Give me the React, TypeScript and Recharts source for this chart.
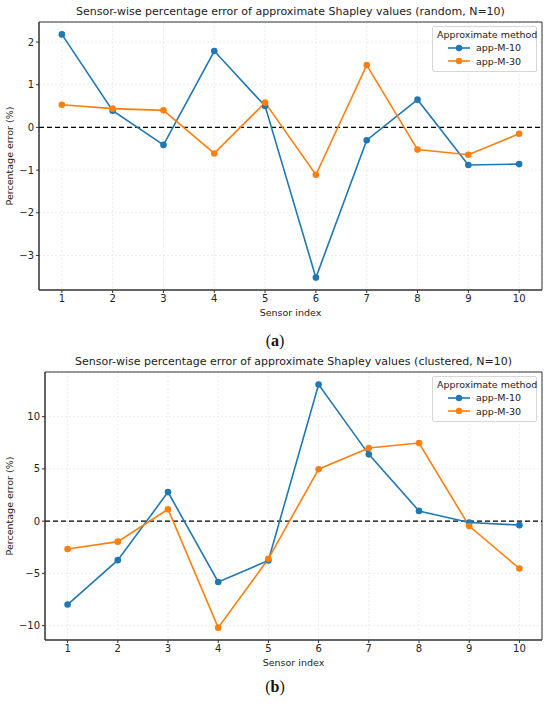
import React from "react";
import {
  LineChart,
  Line,
  XAxis,
  YAxis,
  CartesianGrid,
  ReferenceLine,
  ReferenceArea,
} from "recharts";

const sensors = [1, 2, 3, 4, 5, 6, 7, 8, 9, 10];

// (a) random placement
const randomM10 = [2.18, 0.39, -0.41, 1.79, 0.5, -3.52, -0.3, 0.65, -0.88, -0.86];
const randomM30 = [0.53, 0.44, 0.4, -0.61, 0.58, -1.11, 1.46, -0.52, -0.64, -0.15];

// (b) clustered placement
const clusteredM10 = [-7.98, -3.73, 2.78, -5.82, -3.76, 13.08, 6.39, 0.98, -0.13, -0.38];
const clusteredM30 = [-2.66, -1.96, 1.14, -10.19, -3.6, 4.97, 7.0, 7.47, -0.47, -4.53];

const randomTicks = [-3, -2, -1, 0, 1, 2];
const clusteredTicks = [-10, -5, 0, 5, 10];

const BLUE = "#1f77b4";
const ORANGE = "#ff7f0e";
const FONT = "DejaVu Sans";

const toRows = (m10: number[], m30: number[]) =>
  sensors.map((s, i) => ({ sensor: s, m10: m10[i], m30: m30[i] }));

const minus = (v: number) => String(v).replace("-", "\u2212");

function LegendBox() {
  const item = (color: string, text: string) => (
    <div style={{ display: "flex", alignItems: "center", height: 13.5 }}>
      <svg width={22} height={10} style={{ marginRight: 6 }}>
        <line x1={0} y1={5} x2={22} y2={5} stroke={color} strokeWidth={1.6} />
        <circle cx={11} cy={5} r={3.2} fill={color} />
      </svg>
      <span>{text}</span>
    </div>
  );
  return (
    <div
      style={{
        boxSizing: "border-box",
        border: "1px solid #d6d6d6",
        borderRadius: 2,
        background: "rgba(255,255,255,0.85)",
        padding: "2px 4px 3px 4px",
        fontFamily: FONT,
        fontSize: 9.5,
        color: "#222",
        width: 105,
        whiteSpace: "nowrap",
      }}
    >
      <div style={{ textAlign: "center", marginBottom: 1 }}>Approximate method</div>
      <div style={{ paddingLeft: 11 }}>
        {item(BLUE, "app-M-10")}
        {item(ORANGE, "app-M-30")}
      </div>
    </div>
  );
}

type PanelProps = {
  title: string;
  rows: { sensor: number; m10: number; m30: number }[];
  yDomain: [number, number];
  yTicks: number[];
  yWidth: number;
};

function Panel({ title, rows, yDomain, yTicks, yWidth }: PanelProps) {
  const plotLeft = yWidth;
  const plotRight = 542;
  return (
    <div style={{ position: "relative", width: 550, height: 330 }}>
      <div
        style={{
          position: "absolute",
          top: 5,
          left: plotLeft,
          width: plotRight - plotLeft,
          textAlign: "center",
          fontFamily: FONT,
          fontSize: 11,
          color: "#222",
          whiteSpace: "nowrap",
        }}
      >
        {title}
      </div>
      <LineChart
        width={550}
        height={330}
        data={rows}
        margin={{ top: 22, right: 8, bottom: 10, left: 0 }}
      >
        <CartesianGrid stroke="#ececec" strokeDasharray="2 2" />
        <XAxis
          dataKey="sensor"
          type="number"
          domain={[0.55, 10.45]}
          ticks={sensors}
          allowDataOverflow
          height={30}
          tickSize={3}
          tickLine={{ stroke: "#333" }}
          axisLine={{ stroke: "#333" }}
          tick={{ fill: "#222", fontSize: 10, fontFamily: FONT }}
          label={{
            value: "Sensor index",
            position: "insideBottom",
            offset: 4,
            style: { fill: "#222", fontSize: 9.5, fontFamily: FONT },
          }}
        />
        <YAxis
          type="number"
          domain={yDomain}
          ticks={yTicks}
          allowDataOverflow
          width={yWidth}
          tickSize={3}
          tickLine={{ stroke: "#333" }}
          axisLine={{ stroke: "#333" }}
          tickFormatter={minus}
          tick={{ fill: "#222", fontSize: 10, fontFamily: FONT }}
          label={{
            value: "Percentage error (%)",
            angle: -90,
            position: "insideLeft",
            offset: 10,
            style: { fill: "#222", fontSize: 9.5, fontFamily: FONT, textAnchor: "middle" },
          }}
        />
        <ReferenceArea
          x1={0.55}
          x2={10.45}
          y1={yDomain[0]}
          y2={yDomain[1]}
          fill="none"
          stroke="#333"
          strokeWidth={1}
        />
        <ReferenceLine y={0} stroke="#000" strokeWidth={1.4} strokeDasharray="5 3" />
        <Line
          dataKey="m10"
          name="app-M-10"
          stroke={BLUE}
          strokeWidth={1.6}
          dot={{ r: 3.3, fill: BLUE, stroke: BLUE, strokeWidth: 0 }}
          activeDot={false}
          isAnimationActive={false}
        />
        <Line
          dataKey="m30"
          name="app-M-30"
          stroke={ORANGE}
          strokeWidth={1.6}
          dot={{ r: 3.3, fill: ORANGE, stroke: ORANGE, strokeWidth: 0 }}
          activeDot={false}
          isAnimationActive={false}
        />
      </LineChart>
      <div style={{ position: "absolute", top: 26, left: 432 }}>
        <LegendBox />
      </div>
    </div>
  );
}

function Caption({ letter, top }: { letter: string; top: number }) {
  return (
    <div
      style={{
        position: "absolute",
        top,
        left: 0,
        width: 550,
        textAlign: "center",
        fontFamily: "Liberation Serif",
        fontSize: 16,
        color: "#111",
      }}
    >
      (<b>{letter}</b>)
    </div>
  );
}

export default function App() {
  return (
    <div
      style={{
        position: "absolute",
        top: 0,
        left: 0,
        width: 550,
        height: 704,
        background: "#fff",
        overflow: "hidden",
      }}
    >
      <div style={{ position: "absolute", top: 0, left: 0 }}>
        <Panel
          title="Sensor-wise percentage error of approximate Shapley values (random, N=10)"
          rows={toRows(randomM10, randomM30)}
          yDomain={[-3.81, 2.47]}
          yTicks={randomTicks}
          yWidth={39}
        />
      </div>
      <Caption letter="a" top={332} />
      <div style={{ position: "absolute", top: 350, left: 0 }}>
        <Panel
          title="Sensor-wise percentage error of approximate Shapley values (clustered, N=10)"
          rows={toRows(clusteredM10, clusteredM30)}
          yDomain={[-11.37, 14.27]}
          yTicks={clusteredTicks}
          yWidth={45}
        />
      </div>
      <Caption letter="b" top={678} />
    </div>
  );
}
